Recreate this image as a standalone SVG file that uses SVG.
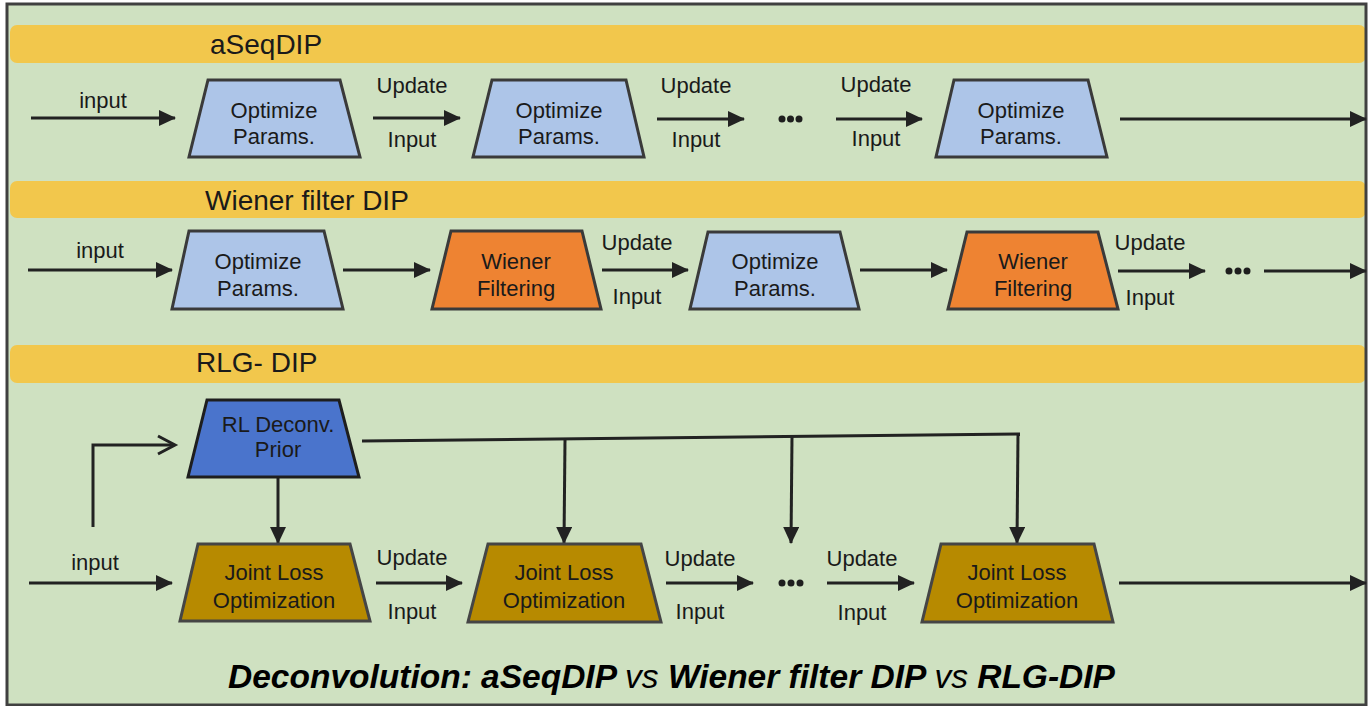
<svg xmlns="http://www.w3.org/2000/svg" width="1370" height="706" viewBox="0 0 1370 706">
<style>
text{font-family:"Liberation Sans",Arial,sans-serif;fill:#1a1a1a}
.lbl{font-size:22px;text-anchor:middle}
.ban{font-size:28px}
.node{stroke:#3a3a3a;stroke-width:3;stroke-linejoin:miter}
.opt{fill:#adc5e8}
.wf{fill:#ee8332}
.rl{fill:#4a74cc;stroke:#1e1e1e}
.jl{fill:#b78a00;stroke:#454545}
.c{stroke:#222;stroke-width:3;fill:none}
.a{marker-end:url(#ah)}
.dot{fill:#1e1e1e}
.bn{fill:#f2c74c}
</style>
<defs>
<marker id="ah" markerUnits="userSpaceOnUse" markerWidth="17" markerHeight="16" refX="16" refY="8" orient="auto">
<path d="M0,0 L17,8 L0,16 z" fill="#222"/>
</marker>
</defs>
<rect x="0" y="0" width="1370" height="706" fill="#ffffff"/>
<rect x="7" y="4" width="1359" height="701" fill="#cfe1c1"/>
<g id="banners">
<rect class="bn" x="10" y="25" width="1356" height="38" rx="7"/>
<rect class="bn" x="10" y="181" width="1356" height="37" rx="7"/>
<rect class="bn" x="10" y="345" width="1356" height="38" rx="7"/>
<text class="ban" x="210" y="54">aSeqDIP</text>
<text class="ban" x="205" y="210">Wiener filter DIP</text>
<text class="ban" x="196" y="372">RLG- DIP</text>
</g>
<rect x="7" y="4" width="1359" height="701" fill="none" stroke="#404040" stroke-width="3"/>
<g id="connectors">
<line class="c a" x1="31" y1="118" x2="175" y2="118"/>
<line class="c a" x1="373" y1="118" x2="460" y2="118"/>
<line class="c a" x1="657" y1="119" x2="744" y2="119"/>
<line class="c a" x1="836" y1="119" x2="922" y2="119"/>
<line class="c a" x1="1120" y1="119" x2="1366" y2="119"/>
<line class="c a" x1="28" y1="270" x2="172" y2="270"/>
<line class="c a" x1="343" y1="270" x2="430" y2="270"/>
<line class="c a" x1="602" y1="270" x2="688" y2="270"/>
<line class="c a" x1="860" y1="270" x2="947" y2="270"/>
<line class="c a" x1="1118" y1="271" x2="1205" y2="271"/>
<line class="c a" x1="1264" y1="271" x2="1366" y2="271"/>
<path class="c" d="M93,527 V445 H174"/>
<path class="c" d="M158,436 L175,445 L158,454"/>
<line class="c a" x1="278" y1="477" x2="278" y2="543"/>
<path class="c" d="M362,441 L1020,434"/>
<line class="c a" x1="565" y1="440" x2="564" y2="543"/>
<line class="c a" x1="792" y1="437" x2="791" y2="543"/>
<line class="c a" x1="1018" y1="434" x2="1017" y2="543"/>
<line class="c a" x1="29" y1="583" x2="172" y2="583"/>
<line class="c a" x1="376" y1="583" x2="462" y2="583"/>
<line class="c a" x1="666" y1="583" x2="753" y2="583"/>
<line class="c a" x1="827" y1="583" x2="914" y2="583"/>
<line class="c a" x1="1119" y1="583" x2="1366" y2="583"/>
<text class="lbl" x="103" y="108">input</text>
<text class="lbl" x="412" y="93">Update</text>
<text class="lbl" x="412" y="147">Input</text>
<text class="lbl" x="696" y="93">Update</text>
<text class="lbl" x="696" y="147">Input</text>
<text class="lbl" x="876" y="92">Update</text>
<text class="lbl" x="876" y="146">Input</text>
<circle class="dot" cx="782" cy="119" r="3.5"/><circle class="dot" cx="790.5" cy="119" r="3.5"/><circle class="dot" cx="799" cy="119" r="3.5"/>
<text class="lbl" x="100" y="258">input</text>
<text class="lbl" x="637" y="250">Update</text>
<text class="lbl" x="637" y="304">Input</text>
<text class="lbl" x="1150" y="250">Update</text>
<text class="lbl" x="1150" y="305">Input</text>
<circle class="dot" cx="1229" cy="271" r="3.5"/><circle class="dot" cx="1238" cy="271" r="3.5"/><circle class="dot" cx="1247" cy="271" r="3.5"/>
<text class="lbl" x="95" y="570">input</text>
<text class="lbl" x="412" y="565">Update</text>
<text class="lbl" x="412" y="619">Input</text>
<text class="lbl" x="700" y="566">Update</text>
<text class="lbl" x="700" y="619">Input</text>
<text class="lbl" x="862" y="566">Update</text>
<text class="lbl" x="862" y="620">Input</text>
<circle class="dot" cx="782" cy="583" r="3.5"/><circle class="dot" cx="791" cy="583" r="3.5"/><circle class="dot" cx="800" cy="583" r="3.5"/>
</g>
<g id="a1"><polygon class="node opt" points="208,80 340,80 360,157 189,157"/><text class="lbl" x="274" y="118">Optimize</text><text class="lbl" x="274" y="144">Params.</text></g>
<g id="a2"><polygon class="node opt" points="492,80 626,80 644,157 473,157"/><text class="lbl" x="559" y="118">Optimize</text><text class="lbl" x="559" y="144">Params.</text></g>
<g id="a3"><polygon class="node opt" points="954,80 1088,80 1107,157 936,157"/><text class="lbl" x="1021" y="118">Optimize</text><text class="lbl" x="1021" y="144">Params.</text></g>
<g id="w1"><polygon class="node opt" points="189,231 324,231 343,309 172,309"/><text class="lbl" x="258" y="269">Optimize</text><text class="lbl" x="258" y="296">Params.</text></g>
<g id="w2"><polygon class="node wf" points="451,231 582,231 601,309 432,309"/><text class="lbl" x="516" y="269">Wiener</text><text class="lbl" x="516" y="296">Filtering</text></g>
<g id="w3"><polygon class="node opt" points="708,232 840,232 859,309 690,309"/><text class="lbl" x="775" y="269">Optimize</text><text class="lbl" x="775" y="296">Params.</text></g>
<g id="w4"><polygon class="node wf" points="967,232 1098,232 1118,309 948,309"/><text class="lbl" x="1033" y="269">Wiener</text><text class="lbl" x="1033" y="296">Filtering</text></g>
<g id="rl"><polygon class="node rl" points="207,400 339,400 359,477 188,477"/><text class="lbl" x="278" y="432">RL Deconv.</text><text class="lbl" x="278" y="457">Prior</text></g>
<g id="j1"><polygon class="node jl" points="198,544 350,544 370,621 180,621"/><text class="lbl" x="274" y="580">Joint Loss</text><text class="lbl" x="274" y="608">Optimization</text></g>
<g id="j2"><polygon class="node jl" points="488,544 641,544 661,622 468,622"/><text class="lbl" x="564" y="580">Joint Loss</text><text class="lbl" x="564" y="608">Optimization</text></g>
<g id="j3"><polygon class="node jl" points="941,544 1094,544 1113,622 922,622"/><text class="lbl" x="1017" y="580">Joint Loss</text><text class="lbl" x="1017" y="608">Optimization</text></g>
<g id="title"><text x="228" y="688" style="font-size:33.5px;font-weight:bold;font-style:italic;fill:#000">Deconvolution: aSeqDIP <tspan style="font-weight:normal">vs</tspan> Wiener filter DIP <tspan style="font-weight:normal">vs</tspan> RLG-DIP</text></g>
</svg>
